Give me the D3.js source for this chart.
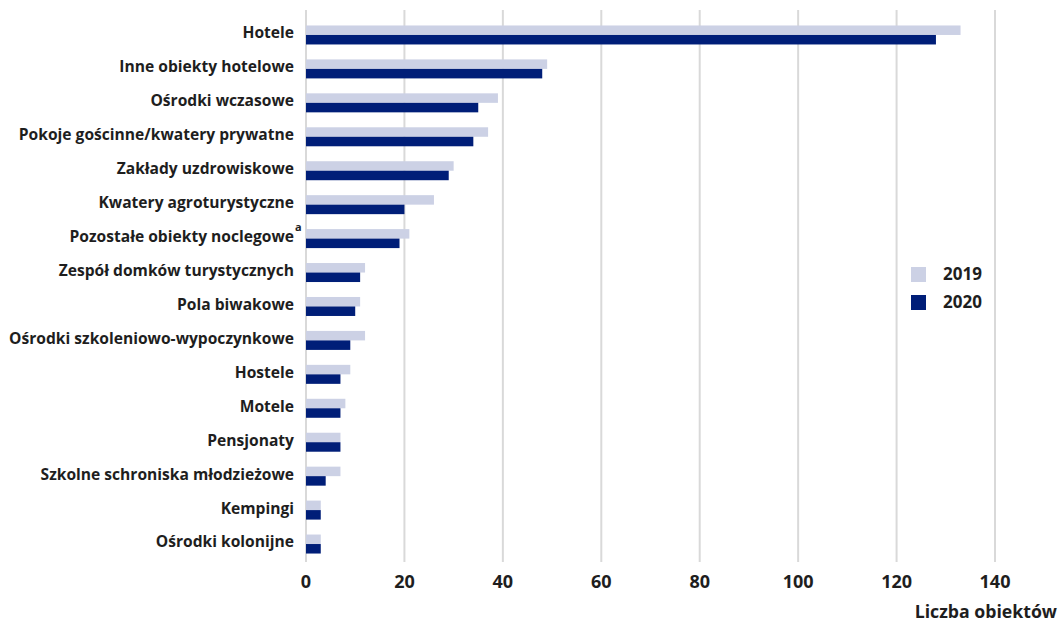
<!DOCTYPE html>
<html>
<head>
<meta charset="utf-8">
<script src="https://cdn.jsdelivr.net/npm/d3@7"></script>
<style>
  body { margin: 0; background: #fff; }
  text { font-family: "Open Sans", sans-serif; font-weight: 700; fill: #1e1e1e; }
</style>
</head>
<body>
<div id="chart"></div>
<script>
var categories = ["Hotele", "Inne obiekty hotelowe", "Ośrodki wczasowe", "Pokoje gościnne/kwatery prywatne",
    "Zakłady uzdrowiskowe", "Kwatery agroturystyczne", "Pozostałe obiekty noclegowe", "Zespół domków turystycznych",
    "Pola biwakowe", "Ośrodki szkoleniowo-wypoczynkowe", "Hostele", "Motele", "Pensjonaty",
    "Szkolne schroniska młodzieżowe", "Kempingi", "Ośrodki kolonijne"];
var values2019 = [133, 49, 39, 37, 30, 26, 21, 12, 11, 12, 9, 8, 7, 7, 3, 3];
var values2020 = [128, 48, 35, 34, 29, 20, 19, 11, 10, 9, 7, 7, 7, 4, 3, 3];
var years = ["2019", "2020"];
var xTicks = [0, 20, 40, 60, 80, 100, 120, 140];
var footnoted = "Pozostałe obiekty noclegowe";

var width = 1060;
var height = 623;
var colors = {"2019": "#ccd1e5", "2020": "#001e78"};

var svg = d3.select("#chart").append("svg").attr("width", width).attr("height", height);

var x = d3.scaleLinear().domain([0, 140]).range([306, 995]);
var y = d3.scaleBand().domain(categories).range([16, 559]);
var yInner = d3.scaleBand().domain(years).range([0, 19]);

// siatka
svg.selectAll(".grid")
    .data(xTicks)
    .enter()
    .append("line")
    .attr("class", "grid")
    .attr("x1", function (d) { return x(d); })
    .attr("x2", function (d) { return x(d); })
    .attr("y1", 10)
    .attr("y2", 562)
    .attr("stroke", "#d9d9d9")
    .attr("stroke-width", 2);

// słupki
var rows = categories.map(function (c, i) {
    return {cat: c, v: {"2019": values2019[i], "2020": values2020[i]}};
});

var group = svg.selectAll(".row")
    .data(rows)
    .enter()
    .append("g")
    .attr("class", "row")
    .attr("transform", function (d) {
        return "translate(0," + (y(d.cat) + y.bandwidth() / 2 - 7.5) + ")";
    });

group.selectAll("rect")
    .data(function (d) {
        return years.map(function (yr) { return {year: yr, value: d.v[yr]}; });
    })
    .enter()
    .append("rect")
    .attr("x", x(0))
    .attr("y", function (d) { return yInner(d.year); })
    .attr("width", function (d) { return x(d.value) - x(0); })
    .attr("height", yInner.bandwidth())
    .attr("fill", function (d) { return colors[d.year]; });

// etykiety kategorii
svg.selectAll(".cat_label")
    .data(categories)
    .enter()
    .append("text")
    .attr("class", "cat_label")
    .attr("x", 294)
    .attr("y", function (d) { return y(d) + y.bandwidth() / 2; })
    .attr("dy", "0.35em")
    .attr("text-anchor", "end")
    .attr("font-size", "15.6px")
    .text(function (d) { return d; });

svg.append("text")
    .attr("x", 295)
    .attr("y", y(footnoted) + y.bandwidth() / 2 - 6)
    .attr("font-size", "11px")
    .text("a");

// oś X
svg.selectAll(".x_label")
    .data(xTicks)
    .enter()
    .append("text")
    .attr("class", "x_label")
    .attr("x", function (d) { return x(d); })
    .attr("y", 582)
    .attr("dy", "0.35em")
    .attr("text-anchor", "middle")
    .attr("font-size", "18px")
    .text(function (d) { return d; });

svg.append("text")
    .attr("x", 1057)
    .attr("y", 612)
    .attr("dy", "0.35em")
    .attr("text-anchor", "end")
    .attr("font-size", "17.7px")
    .text("Liczba obiektów");

// legenda
var legend = svg.selectAll(".legend")
    .data(years)
    .enter()
    .append("g")
    .attr("class", "legend")
    .attr("transform", function (d, i) { return "translate(911," + (267 + i * 28) + ")"; });

legend.append("rect")
    .attr("width", 15)
    .attr("height", 15)
    .attr("fill", function (d) { return colors[d]; });

legend.append("text")
    .attr("x", 71)
    .attr("y", 7.5)
    .attr("dy", "0.35em")
    .attr("text-anchor", "end")
    .attr("font-size", "17px")
    .text(function (d) { return d; });
</script>
</body>
</html>
